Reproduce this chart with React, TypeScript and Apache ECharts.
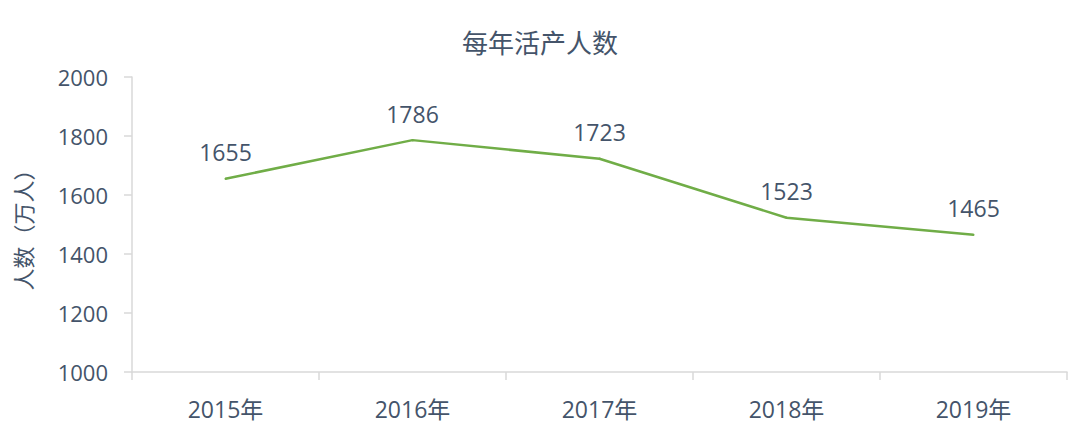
import React, { useEffect, useRef } from "react";
import * as echarts from "echarts";

const titleText = "每年活产人数";
const yAxisName = "人数（万人）";
const categories = ["2015年", "2016年", "2017年", "2018年", "2019年"];
const births = [1655, 1786, 1723, 1523, 1465];

const FONT = "'Open Sans', 'Noto Sans CJK SC', sans-serif";
const CJK = "'Noto Sans CJK SC', 'Open Sans', sans-serif";
const TEXT = "#44546a";
const AXIS = "#d9d9d9";

export default function App() {
  const ref = useRef<HTMLDivElement>(null);
  useEffect(() => {
    if (!ref.current) return;
    const chart = echarts.init(ref.current, undefined, { renderer: "svg" });
    chart.setOption({
      animation: false,
      backgroundColor: "#ffffff",
      textStyle: { fontFamily: FONT },
      title: {
        text: titleText,
        left: "center",
        top: 25,
        textStyle: { fontFamily: FONT, fontSize: 26, fontWeight: "normal", color: TEXT },
      },
      grid: { left: 132, right: 13, top: 77, bottom: 62 },
      xAxis: {
        type: "category",
        data: categories,
        boundaryGap: true,
        axisLine: { lineStyle: { color: AXIS, width: 1.5 } },
        axisTick: { show: true, length: 8, lineStyle: { color: AXIS, width: 1.5 } },
        axisLabel: { color: TEXT, fontSize: 23, fontFamily: FONT, margin: 25 },
        splitLine: { show: false },
      },
      yAxis: {
        type: "value",
        min: 1000,
        max: 2000,
        interval: 200,
        name: yAxisName,
        nameLocation: "middle",
        nameGap: 99,
        nameTextStyle: { color: TEXT, fontSize: 22, fontFamily: CJK },
        axisLine: { show: true, lineStyle: { color: AXIS, width: 1.5 } },
        axisTick: { show: true, length: 8, lineStyle: { color: AXIS, width: 1.5 } },
        axisLabel: {
          color: TEXT,
          fontSize: 22,
          fontFamily: FONT,
          margin: 24,
          formatter: (v: number) => String(v),
        },
        splitLine: { show: false },
      },
      series: [
        {
          type: "line",
          data: births,
          symbol: "circle",
          symbolSize: 2,
          showSymbol: true,
          itemStyle: { color: "#70ad47" },
          lineStyle: { color: "#70ad47", width: 2.5 },
          label: {
            show: true,
            position: "top",
            distance: 14,
            color: TEXT,
            fontSize: 23,
            fontFamily: FONT,
          },
        },
      ],
    });
    return () => chart.dispose();
  }, []);
  return <div ref={ref} style={{ width: 1080, height: 434, position: "absolute", left: 0, top: 0 }} />;
}
